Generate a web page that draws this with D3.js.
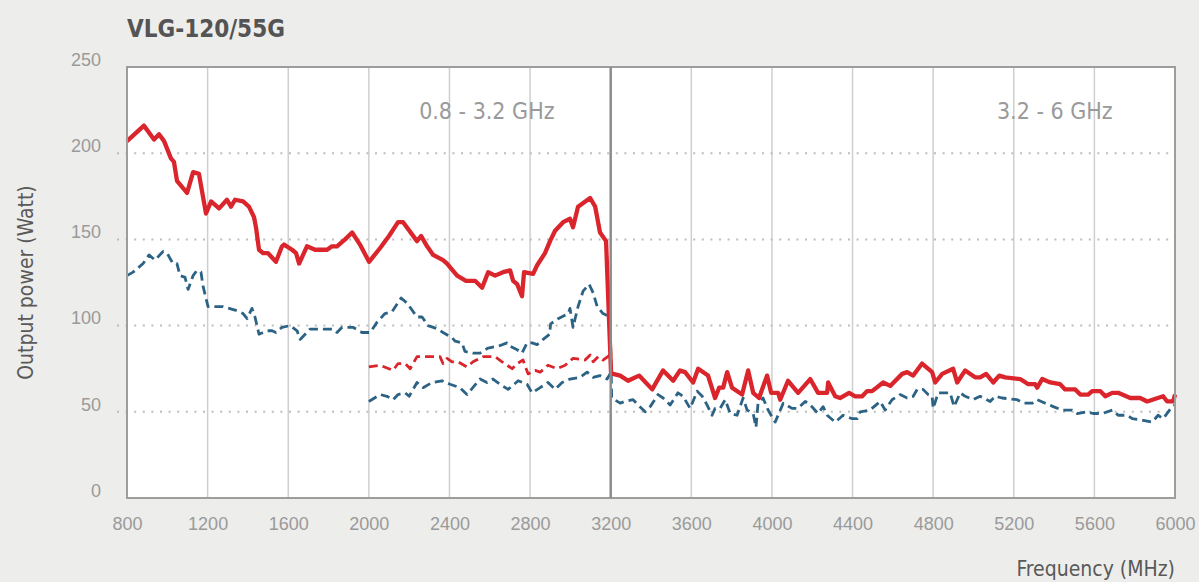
<!DOCTYPE html>
<html>
<head>
<meta charset="utf-8">
<script src="https://cdn.jsdelivr.net/npm/d3@7"></script>
<style>
  html, body { margin: 0; padding: 0; background: #ededeb; }
  svg { display: block; font-family: "DejaVu Sans Condensed", sans-serif; font-stretch: condensed; }
</style>
</head>
<body>
<script>
// 0.8 - 6 GHz, Psat (rot, durchgezogen)
const freqSat = [800,884,934,959,984,1018,1033,1048,1098,1128,1157,1192,1217,1257,1296,1316,1336,1376,1405,1430,1440,1455,1475,1500,1539,1569,1579,1619,1639,1654,1693,1733,1793,1817,1842,1882,1917,1956,2001,2056,2100,2145,2170,2239,2259,2289,2319,2368,2388,2438,2482,2527,2562,2592,2626,2666,2701,2716,2736,2760,2770,2815,2835,2874,2899,2924,2964,2998,3013,3038,3098,3123,3147,3177,3202,3212,3247,3286,3341,3406,3460,3510,3544,3569,3609,3634,3683,3718,3738,3758,3778,3802,3852,3882,3907,3936,3976,3996,4031,4041,4080,4130,4190,4229,4274,4279,4314,4338,4383,4413,4448,4472,4497,4552,4587,4646,4671,4701,4745,4795,4810,4845,4899,4919,4959,5008,5033,5063,5098,5128,5157,5232,5272,5306,5316,5341,5381,5430,5455,5505,5530,5569,5589,5629,5654,5689,5718,5778,5827,5862,5941,5961,5991,6000];
const powerSat = [207,216,208,211,207,197,195,184,177,189,188,165,172,168,173,169,173,172,169,163,157,144,142,142,137,146,147,144,142,136,146,144,144,146,146,150,154,147,137,145,152,160,160,149,152,146,141,138,136,129,126,126,122,131,129,131,132,126,124,117,131,130,135,142,149,155,160,162,157,169,174,169,154,149,72,72,71,68,71,63,74,68,74,73,67,75,71,58,64,64,73,64,60,74,61,58,71,61,61,57,68,61,69,61,61,67,59,58,61,59,59,62,62,67,65,72,73,71,78,73,67,72,75,67,74,70,70,72,67,71,70,69,66,66,64,69,67,66,63,63,60,60,62,62,59,61,61,58,58,56,59,56,56,60];

// 0.8 - 6 GHz, P1dB (blau, gestrichelt)
const freqP1 = [800,830,880,909,939,979,999,1028,1048,1063,1088,1103,1128,1147,1167,1177,1202,1276,1336,1376,1396,1420,1435,1455,1495,1520,1539,1569,1609,1644,1659,1693,1708,1822,1842,1867,1921,1966,2006,2041,2080,2115,2160,2190,2239,2264,2294,2343,2368,2413,2428,2462,2477,2517,2552,2592,2641,2686,2701,2736,2760,2785,2810,2835,2865,2897,2902,2939,2989,2998,3013,3038,3063,3093,3113,3133,3162,3197,3205,3247,3271,3311,3336,3371,3396,3435,3460,3495,3534,3559,3594,3629,3654,3678,3703,3718,3743,3768,3793,3827,3857,3877,3907,3921,3931,3956,3981,4016,4056,4100,4130,4165,4190,4229,4254,4274,4314,4353,4398,4423,4438,4487,4537,4562,4596,4636,4671,4701,4721,4750,4775,4795,4800,4825,4884,4904,4934,4959,4998,5033,5083,5108,5142,5217,5247,5292,5316,5356,5396,5440,5490,5515,5564,5594,5639,5689,5718,5763,5788,5842,5887,5916,5941,5986,6000];
const powerP1 = [129,131,136,141,138,143,142,136,136,129,128,121,129,132,131,123,111,111,109,107,104,110,105,95,97,97,96,99,100,97,92,96,98,98,96,99,99,96,96,102,107,108,116,113,105,105,100,98,96,93,91,90,85,84,84,87,88,90,88,86,84,90,90,89,92,95,101,104,107,110,99,111,120,124,119,111,107,105,58,55,56,57,54,50,53,60,58,54,61,59,52,62,59,54,48,52,52,57,49,48,58,51,49,41,55,58,51,44,55,52,52,56,54,49,53,48,44,48,46,46,50,51,56,51,57,60,58,59,63,63,60,59,52,61,61,53,61,59,57,59,56,59,58,57,55,55,57,55,53,51,51,49,50,49,49,51,48,48,46,45,44,48,46,53,54];

// 2 - 3.2 GHz, zweite Messung
const freqBand = [2000,2056,2120,2145,2180,2205,2239,2289,2353,2368,2388,2413,2443,2487,2517,2567,2626,2661,2711,2736,2765,2790,2825,2850,2889,2934,2974,3013,3073,3098,3113,3138,3162,3197];
const powerBandSat = [76,77,74,78,78,75,82,82,82,78,81,79,79,76,79,82,82,79,75,78,80,72,74,73,77,75,77,81,80,83,79,82,80,83];
const freqBandP1 = [2000,2056,2090,2120,2145,2180,2200,2239,2269,2314,2363,2403,2452,2487,2537,2552,2586,2616,2651,2691,2741,2785,2810,2850,2889,2924,2959,2998,3048,3083,3113,3147,3182,3197];
const powerBandP1 = [56,60,59,57,60,61,59,67,64,67,68,66,64,60,67,69,67,69,66,63,68,66,61,64,67,63,67,69,70,73,70,71,69,72];

const xTicks = [800,1200,1600,2000,2400,2800,3200,3600,4000,4400,4800,5200,5600,6000];
const yTicks = [0,50,100,150,200,250];
const bands = [{label: '0.8 - 3.2 GHz', from: 800, to: 3200, pos: 0.744}, {label: '3.2 - 6 GHz', from: 3200, to: 6000, pos: 0.787}];

function draw() {
  const width = 1199, height = 582;
  // Rand des Plotbereichs
  const margin = {top: 67, right: 24, bottom: 84, left: 127};

  const x = d3.scaleLinear()
    .domain([800, 6000])
    .range([margin.left, width - margin.right]);
  const y = d3.scaleLinear()
    .domain([0, 250])
    .range([height - margin.bottom, margin.top]);

  const svg = d3.select('body')
    .append('svg')
    .attr('width', width)
    .attr('height', height);

  // weisser Plotbereich
  svg.append('rect')
    .attr('x', x(800))
    .attr('y', y(250))
    .attr('width', x(6000) - x(800))
    .attr('height', y(0) - y(250))
    .attr('fill', 'white');

  // vertikale Gitterlinien
  svg.append('g')
    .selectAll('line')
    .data(xTicks.filter(d => d !== 800 && d !== 6000 && d !== 3200))
    .join('line')
    .attr('x1', d => x(d)).attr('x2', d => x(d))
    .attr('y1', y(250)).attr('y2', y(0))
    .attr('stroke', '#cfcfcf')
    .attr('stroke-width', 1.5);

  // horizontale Gitterlinien (gepunktet)
  svg.append('g')
    .selectAll('line')
    .data(yTicks.filter(d => d > 0 && d < 250))
    .join('line')
    .attr('x1', x(800) - 10).attr('x2', x(6000))
    .attr('y1', d => y(d)).attr('y2', d => y(d))
    .attr('stroke', '#bdbdbd')
    .attr('stroke-width', 2)
    .attr('stroke-dasharray', '2,6.6');

  // Achsen
  svg.append('g')
    .attr('transform', `translate(0,${y(0)})`)
    .call(d3.axisBottom(x).tickValues(xTicks).tickSize(0).tickPadding(19).tickFormat(d3.format('d')))
    .call(g => g.select('.domain').remove())
    .call(g => g.selectAll('text')
      .attr('fill', '#9a9a9a')
      .style('font-size', '18px'));

  svg.append('g')
    .attr('transform', `translate(${x(800)},0)`)
    .call(d3.axisLeft(y).tickValues(yTicks).tickSize(0).tickPadding(26))
    .call(g => g.select('.domain').remove())
    .call(g => g.selectAll('text')
      .attr('fill', '#9a9a9a')
      .attr('dy', '-0.1em')
      .style('font-size', '18px'));

  // Kurven
  const line = d3.line()
    .x(d => x(d[0]))
    .y(d => y(d[1]));

  const series = [
    {f: freqBandP1, p: powerBandP1, color: '#2c6384', width: 2.8, dash: '9,5'},
    {f: freqBand, p: powerBandSat, color: '#d9252b', width: 2.8, dash: '9,5'},
    {f: freqP1, p: powerP1, color: '#2c6384', width: 2.8, dash: '9,5'},
    {f: freqSat, p: powerSat, color: '#d9252b', width: 4.3, dash: null}
  ];

  svg.append('g')
    .selectAll('path')
    .data(series)
    .join('path')
    .attr('d', s => line(d3.zip(s.f, s.p)))
    .attr('fill', 'none')
    .attr('stroke', s => s.color)
    .attr('stroke-width', s => s.width)
    .attr('stroke-dasharray', s => s.dash)
    .attr('stroke-linejoin', 'round');

  // Rahmen und Bandgrenze
  svg.append('rect')
    .attr('x', x(800))
    .attr('y', y(250))
    .attr('width', x(6000) - x(800))
    .attr('height', y(0) - y(250))
    .attr('fill', 'none')
    .attr('stroke', '#9d9d9d')
    .attr('stroke-width', 2);

  svg.append('line')
    .attr('x1', x(3200)).attr('x2', x(3200))
    .attr('y1', y(250)).attr('y2', y(0))
    .attr('stroke', '#8c8c8c')
    .attr('stroke-width', 2.5);

  // Bandbeschriftung
  svg.append('g')
    .selectAll('text')
    .data(bands)
    .join('text')
    .attr('x', d => x(d.from) + (x(d.to) - x(d.from)) * d.pos)
    .attr('y', 119)
    .attr('text-anchor', 'middle')
    .attr('fill', '#9a9a9a')
    .style('font-size', '23px')
    .text(d => d.label);

  // Titel und Achsentitel
  svg.append('text')
    .attr('x', x(800))
    .attr('y', 37)
    .attr('fill', '#545454')
    .style('font-size', '24px')
    .style('font-weight', 'bold')
    .text('VLG-120/55G');

  svg.append('text')
    .attr('transform', `translate(33,${(y(0) + y(250)) / 2}) rotate(-90)`)
    .attr('text-anchor', 'middle')
    .attr('fill', '#595959')
    .style('font-size', '21px')
    .text('Output power (Watt)');

  svg.append('text')
    .attr('x', x(6000))
    .attr('y', 576)
    .attr('text-anchor', 'end')
    .attr('fill', '#595959')
    .style('font-size', '21px')
    .text('Frequency (MHz)');
}

draw();
</script>
</body>
</html>
